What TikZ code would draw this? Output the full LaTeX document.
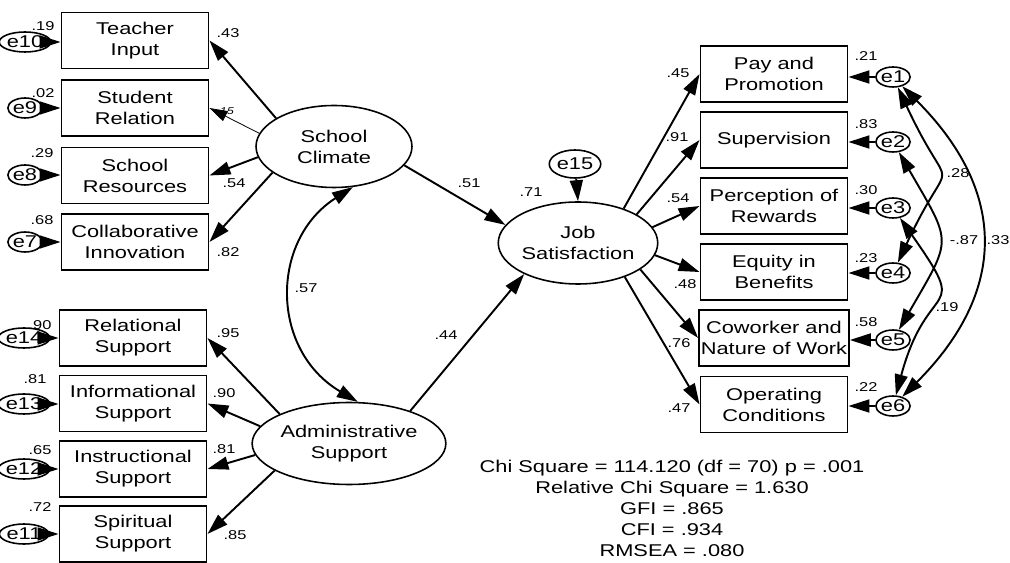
\documentclass[tikz,border=0pt]{standalone}
\usepackage{fontspec}
\setmainfont{Liberation Sans}[FakeStretch=1.28]
\usetikzlibrary{arrows.meta,shapes.geometric}

\begin{document}
\begin{tikzpicture}[
    x=0.02cm, y=0.02cm,
    font=\fontsize{9.7}{11.9}\selectfont,
    observed/.style={draw, line width=1.1pt, minimum width=2.94cm, minimum height=1.12cm, align=center, inner sep=1pt},
    latent/.style={draw, ellipse, line width=0.9pt, minimum width=3.12cm, minimum height=1.64cm, align=center, inner sep=0pt},
    errvar/.style={draw, ellipse, line width=0.9pt, minimum width=0.52cm, minimum height=0.4cm, inner sep=0pt},
    coef/.style={font=\fontsize{7.3}{8}\selectfont, inner sep=0pt},
    arrow/.style={-{Triangle[length=0.42cm,width=0.26cm]}, line width=1.1pt},
    weak/.style={-{Triangle[length=0.36cm,width=0.22cm]}, line width=0.45pt},
    covar/.style={{Triangle[length=0.42cm,width=0.26cm]}-{Triangle[length=0.42cm,width=0.26cm]}, line width=1.1pt}
]
    \useasboundingbox (0,0) rectangle (1010,-563);

    \node[observed] (teacher) at (135,-40.5) {Teacher\\Input};
    \node[observed] (student) at (135,-108) {Student\\Relation};
    \node[observed] (resources) at (135,-175.5) {School\\Resources};
    \node[observed] (collab) at (135,-242) {Collaborative\\Innovation};
    \node[observed] (relational) at (133,-338) {Relational\\Support};
    \node[observed] (informational) at (133,-403.5) {Informational\\Support};
    \node[observed] (instructional) at (133,-469) {Instructional\\Support};
    \node[observed] (spiritual) at (133,-534) {Spiritual\\Support};

    \node[observed] (pay) at (774,-74) {Pay and\\Promotion};
    \node[observed] (supervision) at (774,-140) {Supervision};
    \node[observed] (rewards) at (774,-206) {Perception of\\Rewards};
    \node[observed] (equity) at (774,-272) {Equity in\\Benefits};
    \node[observed] (coworker) at (774,-338) {Coworker and\\Nature of Work};
    \node[observed] (operating) at (774,-404.5) {Operating\\Conditions};

    \node[latent] (climate) at (334,-146.5) {School\\Climate};
    \node[latent] (admin) at (349,-443.5) {Administrative\\Support};
    \node[latent] (jobsat) at (578,-243) {Job\\Satisfaction};
    \node[errvar, minimum width=0.88cm, minimum height=0.56cm] (e15) at (575,-164) {e15};

    \node[errvar] (e10) at (25,-42) {e10};
    \node[errvar] (e9) at (25,-108) {e9};
    \node[errvar] (e8) at (25,-175) {e8};
    \node[errvar] (e7) at (25,-242) {e7};
    \node[errvar] (e14) at (24,-338) {e14};
    \node[errvar] (e13) at (24,-404) {e13};
    \node[errvar] (e12) at (24,-469) {e12};
    \node[errvar] (e11) at (24,-534) {e11};

    \node[errvar] (e1) at (893,-77) {e1};
    \node[errvar] (e2) at (893,-142) {e2};
    \node[errvar] (e3) at (893,-208) {e3};
    \node[errvar] (e4) at (893,-273) {e4};
    \node[errvar] (e5) at (893,-340) {e5};
    \node[errvar] (e6) at (893,-406) {e6};

    \node[coef] (v-teacher) at (43,-26) {.19};
    \node[coef] (v-student) at (43,-93) {.02};
    \node[coef] (v-resources) at (42,-153) {.29};
    \node[coef] (v-collab) at (42,-220) {.68};
    \node[coef] (v-relational) at (40,-325) {.90};
    \node[coef] (v-informational) at (35,-379) {.81};
    \node[coef] (v-instructional) at (40,-450) {.65};
    \node[coef] (v-spiritual) at (40,-507) {.72};
    \node[coef] (w-teacher) at (228,-33) {.43};
    \node[coef, font=\fontsize{5.6}{6}\selectfont\itshape] (w-student) at (225,-111) {.15};
    \node[coef] (w-resources) at (234,-183) {.54};
    \node[coef] (w-collab) at (228,-252) {.82};
    \node[coef] (w-relational) at (228,-333) {.95};
    \node[coef] (w-informational) at (224,-393) {.90};
    \node[coef] (w-instructional) at (224,-449) {.81};
    \node[coef] (w-spiritual) at (235,-535) {.85};

    \node[coef] (r-admin) at (306,-288) {.57};
    \node[coef] (b-climate) at (469,-183) {.51};
    \node[coef] (b-admin) at (446,-335) {.44};
    \node[coef] (v-jobsat) at (531,-192) {.71};

    \node[coef] (w-pay) at (678,-73) {.45};
    \node[coef] (w-supervision) at (677,-137) {.91};
    \node[coef] (w-rewards) at (678,-198) {.54};
    \node[coef] (w-equity) at (685,-284) {.48};
    \node[coef] (w-coworker) at (679,-343) {.76};
    \node[coef] (w-operating) at (679,-408) {.47};
    \node[coef] (v-pay) at (866,-56) {.21};
    \node[coef] (v-supervision) at (866,-124) {.83};
    \node[coef] (v-rewards) at (866,-190) {.30};
    \node[coef] (v-equity) at (866,-258) {.23};
    \node[coef] (v-coworker) at (866,-322) {.58};
    \node[coef] (v-operating) at (866,-387) {.22};
    \node[coef] (r-e1e4) at (958,-173) {.28};
    \node[coef] (r-e2e5) at (964,-240) {-.87};
    \node[coef] (r-e1e6) at (998,-240) {.33};
    \node[coef] (r-e3e6) at (947,-307) {.19};

    \node[align=center] (fit) at (672,-508.5) {Chi Square = 114.120 (df = 70) p = .001\\Relative Chi Square = 1.630\\GFI = .865\\CFI = .934\\RMSEA = .080};

    \draw[arrow] (climate.154) -- (teacher.east);
    \draw[weak] (climate.170) -- (student.east);
    \draw[arrow] (climate.188) -- (resources.east);
    \draw[arrow] (climate.203) -- (collab.east);
    \draw[arrow] (admin.157) -- (relational.east);
    \draw[arrow] (admin.169) -- (informational.east);
    \draw[arrow] (admin.187) -- (instructional.east);
    \draw[arrow] (admin.200) -- (spiritual.east);

    \draw[arrow] (climate.-15) -- (jobsat.166);
    \draw[arrow] (admin.28) -- (jobsat.210);
    \draw[arrow] (e15) -- (jobsat.north);
    \draw[covar] (climate.-65) .. controls (270,-240) and (270,-350) .. (admin.78);

    \draw[arrow] (jobsat.37) -- (pay.west);
    \draw[arrow] (jobsat.26) -- (supervision.west);
    \draw[arrow] (jobsat.12) -- (rewards.west);
    \draw[arrow] (jobsat.-9) -- (equity.west);
    \draw[arrow] (jobsat.-23) -- (coworker.west);
    \draw[arrow] (jobsat.-36) -- (operating.west);

    \draw[arrow] (e10) -- (e10 -| teacher.west);
    \draw[arrow] (e9) -- (e9 -| student.west);
    \draw[arrow] (e8) -- (e8 -| resources.west);
    \draw[arrow] (e7) -- (e7 -| collab.west);
    \draw[arrow] (e14) -- (e14 -| relational.west);
    \draw[arrow] (e13) -- (e13 -| informational.west);
    \draw[arrow] (e12) -- (e12 -| instructional.west);
    \draw[arrow] (e11) -- (e11 -| spiritual.west);

    \draw[arrow] (e1) -- (e1 -| pay.east);
    \draw[arrow] (e2) -- (e2 -| supervision.east);
    \draw[arrow] (e3) -- (e3 -| rewards.east);
    \draw[arrow] (e4) -- (e4 -| equity.east);
    \draw[arrow] (e5) -- (e5 -| coworker.east);
    \draw[arrow] (e6) -- (e6 -| operating.east);

    \draw[covar] (e1) to[out=-65, in=65, looseness=1.95] (e4);
    \draw[covar] (e1) to[out=-45, in=45, looseness=1.23] (e6);
    \draw[covar] (e2) to[out=-60, in=60, looseness=1.55] (e5);
    \draw[covar] (e3) to[out=-55, in=75, looseness=1.8] (e6);
\end{tikzpicture}
\end{document}
